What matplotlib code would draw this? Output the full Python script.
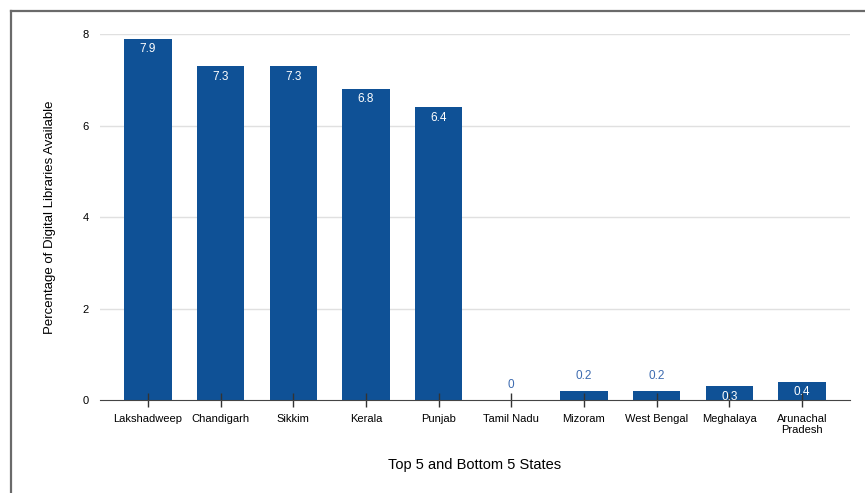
import matplotlib
matplotlib.use("Agg")
import matplotlib.pyplot as plt
from matplotlib.lines import Line2D

plt.rcParams['font.family'] = ['Liberation Sans', 'DejaVu Sans']

states = ['Lakshadweep', 'Chandigarh', 'Sikkim', 'Kerala', 'Punjab',
          'Tamil Nadu', 'Mizoram', 'West Bengal', 'Meghalaya', 'Arunachal\nPradesh']
values = [7.9, 7.3, 7.3, 6.8, 6.4, 0, 0.2, 0.2, 0.3, 0.4]
y_ticks = [0, 2, 4, 6, 8]

BAR = '#0f5196'
LABEL_OUT = '#3d6bb0'

fig = plt.figure(figsize=(8.65, 4.93), dpi=100)
ax = fig.add_axes([0.1156, 0.1886, 0.867, 0.7424])

x = list(range(len(states)))
ax.bar(x, values, width=0.65, color=BAR, zorder=2)

# gridlines under the bars
for t in y_ticks[1:]:
    ax.axhline(t, color='#e0e0e0', linewidth=1, zorder=0.5)

for xi, v in zip(x, values):
    if v >= 0.3:
        ax.text(xi, v - 0.1, f'{v:g}', ha='center', va='top',
                color='white', fontsize=8.5, fontweight='medium', zorder=3)
    else:
        ax.text(xi, v + 0.2, f'{v:g}', ha='center', va='bottom',
                color=LABEL_OUT, fontsize=8.5, zorder=3)

ax.set_xlim(-0.66, 9.66)
ax.set_ylim(0, 8)
ax.set_yticks(y_ticks)
ax.set_xticks(x)
ax.set_xticklabels(states, fontsize=8, linespacing=1.1)
ax.tick_params(axis='y', length=0, pad=8, labelsize=8)
ax.tick_params(axis='x', direction='inout', length=10, width=1, color='#333333', pad=5)
ax.set_axisbelow(False)
for s in ['top', 'right', 'left']:
    ax.spines[s].set_visible(False)
ax.spines['bottom'].set_color('#444444')
ax.spines['bottom'].set_zorder(4)

ax.set_ylabel('Percentage of Digital Libraries Available', fontsize=9.5, labelpad=19)
ax.set_xlabel('Top 5 and Bottom 5 States', fontsize=10.5, labelpad=17)

# outer frame along the top and left edges
fig.add_artist(Line2D([11 / 865, 1], [1 - 11 / 493, 1 - 11 / 493],
                      transform=fig.transFigure, color='#6a6a6a', linewidth=1.6))
fig.add_artist(Line2D([11 / 865, 11 / 865], [0, 1 - 11 / 493],
                      transform=fig.transFigure, color='#6a6a6a', linewidth=1.6))

fig.savefig('out.png', dpi=100)
